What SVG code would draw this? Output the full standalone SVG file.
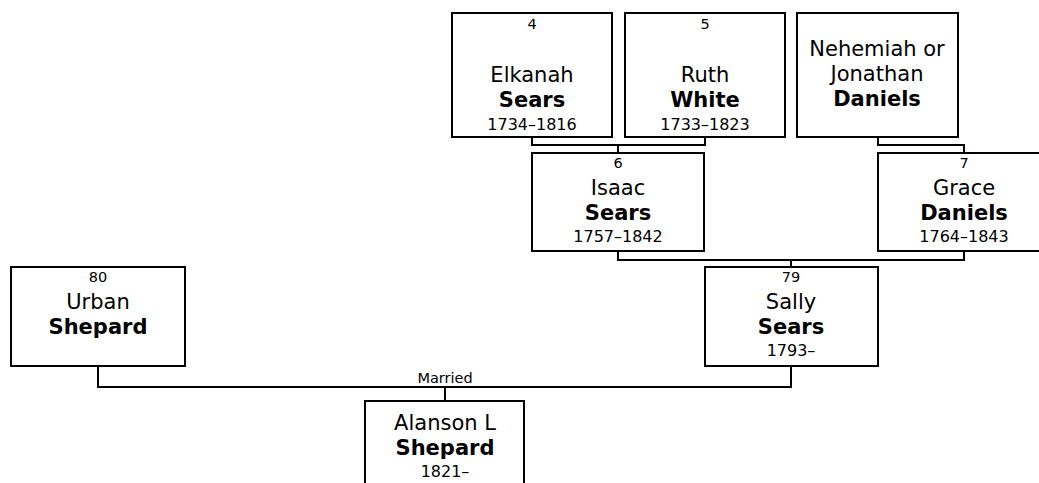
<svg xmlns="http://www.w3.org/2000/svg" width="1039" height="483" viewBox="0 0 1039 483">
<style>
.box{fill:#fff;stroke:#000;stroke-width:2}
.ln{fill:none;stroke:#000;stroke-width:2}
text{font-family:"DejaVu Sans","Liberation Sans",sans-serif;fill:#000;text-anchor:middle}
.num{font-size:14.5px}
.nm{font-size:21px}
.sn{font-size:21px;font-weight:bold}
.dt{font-size:16px}
.lbl{font-size:14.5px}
</style>
<rect width="1039" height="483" fill="#fff"/>
<g id="connectors">
<polyline class="ln" points="532,137 532,145 705,145 705,137"/>
<line class="ln" x1="618" y1="145" x2="618" y2="153"/>
<polyline class="ln" points="878,137 878,145 964,145 964,153"/>
<polyline class="ln" points="618,251 618,260 964,260 964,251"/>
<line class="ln" x1="791" y1="260" x2="791" y2="267"/>
<polyline class="ln" points="98,366 98,387 791,387 791,366"/>
<line class="ln" x1="445" y1="387" x2="445" y2="401"/>
<text class="lbl" x="445" y="383">Married</text>
</g>
<g id="n4">
<rect class="box" x="452" y="13" width="160" height="124"/>
<text class="num" x="532" y="29">4</text>
<text class="nm" x="532" y="82">Elkanah</text>
<text class="sn" x="532" y="107">Sears</text>
<text class="dt" x="532" y="130">1734–1816</text>
</g>
<g id="n5">
<rect class="box" x="625" y="13" width="160" height="124"/>
<text class="num" x="705" y="29">5</text>
<text class="nm" x="705" y="82">Ruth</text>
<text class="sn" x="705" y="107">White</text>
<text class="dt" x="705" y="130">1733–1823</text>
</g>
<g id="nDaniels">
<rect class="box" x="797" y="13" width="161" height="124"/>
<text class="nm" x="877" y="56">Nehemiah or</text>
<text class="nm" x="877" y="81">Jonathan</text>
<text class="sn" x="877" y="106">Daniels</text>
</g>
<g id="n6">
<rect class="box" x="532" y="153" width="172" height="98"/>
<text class="num" x="618" y="168">6</text>
<text class="nm" x="618" y="195">Isaac</text>
<text class="sn" x="618" y="220">Sears</text>
<text class="dt" x="618" y="242">1757–1842</text>
</g>
<g id="n7">
<rect class="box" x="878" y="153" width="172" height="98"/>
<text class="num" x="964" y="168">7</text>
<text class="nm" x="964" y="195">Grace</text>
<text class="sn" x="964" y="220">Daniels</text>
<text class="dt" x="964" y="242">1764–1843</text>
</g>
<g id="n79">
<rect class="box" x="705" y="267" width="173" height="99"/>
<text class="num" x="791" y="282">79</text>
<text class="nm" x="791" y="309">Sally</text>
<text class="sn" x="791" y="334">Sears</text>
<text class="dt" x="791" y="356">1793–</text>
</g>
<g id="n80">
<rect class="box" x="11" y="267" width="174" height="99"/>
<text class="num" x="98" y="282">80</text>
<text class="nm" x="98" y="309">Urban</text>
<text class="sn" x="98" y="334">Shepard</text>
</g>
<g id="n1">
<rect class="box" x="365" y="401" width="159" height="100"/>
<text class="nm" x="445" y="430">Alanson L</text>
<text class="sn" x="445" y="455">Shepard</text>
<text class="dt" x="445" y="477">1821–</text>
</g>
</svg>
